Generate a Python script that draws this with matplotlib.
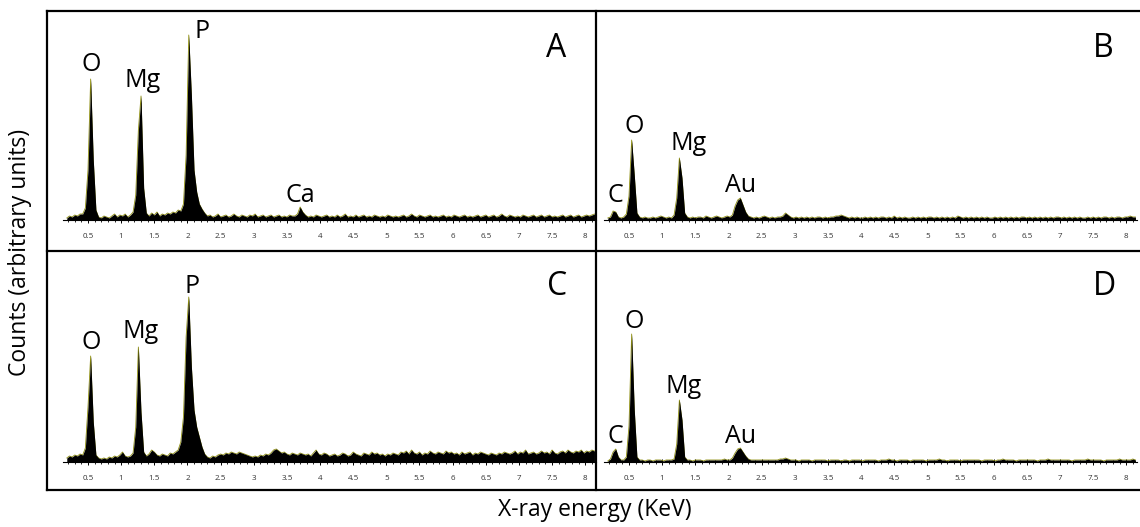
import numpy as np
import matplotlib
matplotlib.use("Agg")
import matplotlib.pyplot as plt
from matplotlib.lines import Line2D
from matplotlib.ticker import FixedLocator, FuncFormatter

plt.rcParams['font.family'] = ['Open Sans', 'DejaVu Sans']

# energy grid of the spectra (keV): first channel and channel width
E_START = 0.18
E_STEP = 0.04

# counts (arbitrary units), one row = 10 channels
counts_a = [
    2, 4, 3, 5, 4, 6, 6, 12, 50, 141,
    60, 10, 3, 2, 4, 3, 2, 4, 6, 3,
    5, 4, 6, 3, 5, 8, 25, 90, 124, 32,
    7, 4, 7, 5, 8, 4, 6, 5, 7, 6,
    8, 7, 10, 9, 16, 65, 185, 125, 50, 28,
    16, 11, 7, 4, 5, 3, 4, 6, 3, 4,
    5, 3, 4, 6, 4, 3, 5, 4, 3, 5,
    4, 6, 3, 4, 5, 3, 4, 5, 3, 4,
    5, 3, 4, 3, 5, 4, 4, 6, 13, 8,
    5, 3, 4, 3, 5, 4, 3, 4, 5, 3,
    4, 3, 5, 3, 4, 6, 3, 4, 3, 5,
    3, 4, 5, 3, 4, 3, 5, 4, 3, 4,
    3, 5, 4, 3, 4, 3, 4, 5, 3, 4,
    6, 4, 3, 5, 4, 3, 4, 5, 3, 4,
    3, 4, 5, 3, 4, 3, 5, 4, 3, 4,
    5, 3, 4, 3, 4, 5, 3, 4, 5, 3,
    4, 5, 3, 4, 6, 4, 3, 5, 4, 3,
    4, 3, 5, 4, 3, 4, 5, 3, 4, 5,
    3, 4, 5, 3, 4, 3, 4, 5, 3, 4,
    5, 3, 4, 5, 3, 4, 5, 4, 5, 6,
]

counts_b = [
    2, 3, 9, 8, 3, 2, 3, 6, 24, 80,
    45, 7, 3, 2, 3, 2, 2, 3, 2, 3,
    4, 3, 2, 3, 2, 5, 22, 62, 42, 7,
    3, 2, 3, 2, 3, 3, 2, 4, 3, 2,
    3, 4, 3, 2, 3, 4, 3, 5, 14, 20,
    22, 15, 8, 4, 3, 2, 3, 2, 3, 4,
    3, 2, 3, 2, 3, 3, 4, 7, 5, 3,
    2, 3, 2, 3, 2, 3, 2, 3, 2, 3,
    3, 2, 3, 2, 3, 3, 4, 4, 5, 4,
    3, 2, 3, 2, 3, 2, 2, 3, 2, 3,
    2, 3, 2, 3, 3, 2, 3, 2, 4, 2,
    3, 2, 3, 2, 2, 3, 2, 3, 2, 3,
    2, 3, 3, 2, 3, 2, 3, 2, 3, 2,
    3, 2, 4, 3, 2, 3, 2, 3, 2, 3,
    2, 3, 2, 3, 2, 2, 3, 2, 3, 2,
    3, 2, 3, 2, 3, 2, 3, 3, 2, 3,
    2, 3, 2, 3, 2, 3, 2, 3, 2, 3,
    3, 2, 3, 2, 3, 2, 3, 2, 3, 2,
    2, 3, 2, 3, 2, 3, 2, 3, 3, 2,
    3, 2, 3, 3, 2, 3, 3, 4, 3, 3,
]

counts_c = [
    4, 6, 5, 7, 6, 8, 7, 14, 55, 106,
    40, 7, 4, 3, 4, 3, 5, 4, 6, 5,
    7, 10, 6, 5, 6, 9, 35, 115, 50, 10,
    6, 8, 12, 10, 7, 6, 8, 7, 6, 9,
    8, 10, 12, 20, 45, 125, 165, 95, 52, 35,
    25, 15, 8, 5, 4, 6, 5, 7, 8, 7,
    9, 8, 10, 9, 8, 10, 9, 8, 7, 6,
    5, 6, 5, 7, 6, 8, 7, 9, 12, 13,
    11, 9, 10, 8, 7, 9, 8, 7, 9, 8,
    7, 8, 6, 9, 12, 8, 7, 9, 8, 6,
    7, 8, 6, 7, 9, 8, 6, 7, 10, 8,
    7, 6, 9, 8, 7, 10, 8, 9, 7, 8,
    6, 8, 7, 9, 8, 7, 10, 9, 11, 8,
    12, 9, 8, 10, 7, 9, 8, 11, 9, 8,
    10, 9, 8, 11, 9, 10, 8, 9, 7, 10,
    8, 9, 10, 7, 9, 8, 10, 9, 8, 7,
    9, 8, 7, 9, 8, 10, 9, 8, 9, 11,
    8, 10, 9, 12, 8, 9, 10, 8, 9, 11,
    9, 10, 8, 12, 9, 8, 10, 11, 9, 12,
    10, 9, 11, 10, 12, 9, 11, 10, 12, 11,
]

counts_d = [
    1, 3, 10, 13, 5, 2, 2, 5, 36, 128,
    52, 5, 2, 2, 1, 2, 2, 1, 2, 2,
    2, 1, 2, 2, 2, 3, 18, 62, 42, 5,
    2, 2, 1, 2, 2, 2, 1, 2, 2, 2,
    2, 2, 2, 2, 3, 2, 2, 4, 9, 13,
    14, 10, 6, 3, 2, 2, 2, 2, 2, 2,
    2, 2, 2, 2, 2, 3, 3, 4, 3, 2,
    2, 2, 1, 2, 2, 2, 2, 1, 2, 2,
    2, 2, 2, 1, 2, 2, 2, 2, 1, 2,
    2, 1, 2, 2, 2, 2, 1, 2, 2, 2,
    2, 2, 1, 2, 2, 2, 3, 2, 2, 1,
    2, 2, 2, 2, 1, 2, 2, 2, 2, 2,
    1, 2, 2, 2, 2, 3, 2, 2, 1, 2,
    2, 2, 2, 1, 2, 2, 2, 2, 2, 2,
    2, 1, 2, 2, 2, 2, 1, 2, 2, 3,
    2, 2, 2, 2, 1, 2, 2, 2, 2, 2,
    2, 2, 1, 2, 2, 2, 3, 2, 2, 2,
    2, 2, 2, 2, 2, 1, 2, 2, 2, 2,
    2, 3, 2, 2, 2, 2, 2, 1, 2, 2,
    2, 2, 2, 3, 2, 2, 2, 2, 3, 2,
]

# element labels: (label, energy, counts) where the text sits
peaks_a = [("O", 0.55, 149), ("Mg", 1.33, 133), ("P", 2.22, 182), ("Ca", 3.71, 18)]
peaks_b = [("C", 0.29, 18), ("O", 0.575, 87), ("Mg", 1.40, 70), ("Au", 2.19, 28)]
peaks_c = [("O", 0.545, 113), ("Mg", 1.30, 124), ("P", 2.07, 169)]
peaks_d = [("C", 0.30, 19), ("O", 0.575, 134), ("Mg", 1.33, 69), ("Au", 2.19, 19)]

major_ticks = [0.5, 1, 1.5, 2, 2.5, 3, 3.5, 4, 4.5, 5, 5.5, 6, 6.5, 7, 7.5, 8]

W, H = 1140, 527
fig = plt.figure(figsize=(W / 100, H / 100), dpi=100)


def px_box(left, bottom_from_top, width, height):
    return [left / W, (H - bottom_from_top) / H, width / W, height / H]


energy = E_START + E_STEP * np.arange(len(counts_a))

panels = [
    (counts_a, peaks_a, px_box(62.8, 220, 533, 200), "A", 7.56),
    (counts_b, peaks_b, px_box(603.8, 220, 533, 200), "B", 7.65),
    (counts_c, peaks_c, px_box(62.8, 462, 533, 200), "C", 7.57),
    (counts_d, peaks_d, px_box(603.8, 462, 533, 200), "D", 7.68),
]

for counts, peaks, box, name, name_x in panels:
    ax = fig.add_axes(box)
    y = np.array(counts, dtype=float)
    ax.plot(energy, y, color="#8f8f10", lw=0.6, zorder=2)
    ax.fill_between(energy, 0, y, color="black", lw=0, zorder=3)
    ax.set_xlim(0.12, 8.16)
    ax.set_ylim(0, 200)
    for s in ["top", "left", "right"]:
        ax.spines[s].set_visible(False)
    ax.spines["bottom"].set_linewidth(0.8)
    ax.set_yticks([])
    ax.patch.set_alpha(0)
    ax.xaxis.set_major_locator(FixedLocator(major_ticks))
    ax.xaxis.set_minor_locator(FixedLocator(np.round(np.arange(0.2, 8.15, 0.1), 2)))
    ax.xaxis.set_major_formatter(FuncFormatter(lambda v, p: f"{v:g}"))
    ax.tick_params(axis="x", which="major", direction="inout", length=4, width=0.7,
                   labelsize=5.8, labelcolor="#333333", pad=7)
    ax.tick_params(axis="x", which="minor", direction="inout", length=2.5, width=0.6)
    for label, ex, cy in peaks:
        ax.text(ex, cy, label, fontsize=18, ha="center", va="baseline", zorder=5)
    ax.text(name_x, 163 if name in "AB" else 167, name, fontsize=23,
            ha="center", va="baseline", zorder=5)

# outer frame and dividers
lw = 1.6
def hline(y, x0, x1):
    fig.add_artist(Line2D([x0 / W, x1 / W], [1 - y / H, 1 - y / H], color="black", lw=lw))

def vline(x, y0, y1):
    fig.add_artist(Line2D([x / W, x / W], [1 - y0 / H, 1 - y1 / H], color="black", lw=lw))

hline(11, 47, W)
hline(251, 47, W)
hline(490, 47, W)
vline(47, 11, 490)
vline(596, 11, 490)

fig.text(20 / W, 1 - 252 / H, "Counts (arbitrary units)", rotation=90,
         ha="center", va="center", fontsize=16.5)
fig.text(595 / W, 1 - 510 / H, "X-ray energy (KeV)", ha="center", va="center",
         fontsize=16.5)

fig.savefig("out.png", dpi=100)
